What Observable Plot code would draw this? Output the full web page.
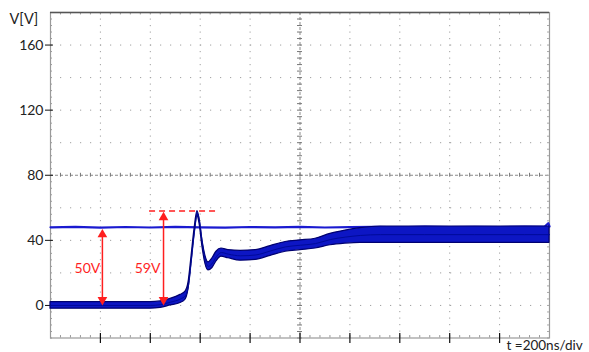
<!DOCTYPE html>
<html>
<head>
<meta charset="utf-8">
<script src="https://cdn.jsdelivr.net/npm/d3@7"></script>
<script src="https://cdn.jsdelivr.net/npm/@observablehq/plot@0.6"></script>
<style>
  html, body { margin: 0; padding: 0; background: #fff; }
  #chart { width: 589px; height: 352px; }
</style>
</head>
<body>
<div id="chart"></div>
<script>
// ---- data (time in ns, voltage in V) ----
const yTicks = [0, 40, 80, 120, 160];
const xMajor = [0, 200, 400, 600, 800, 1000, 1200, 1400, 1600, 1800, 2000];
const yGrid = [0, 20, 40, 60, 100, 120, 140, 160];
const xGrid = [200, 400, 600, 800, 1200, 1400, 1600, 1800];

// main (switch) trace: centre value and half band width
const traceT   = [0, 400, 441, 481, 521, 541, 553, 565, 577, 589, 597, 609, 621, 633, 649, 665, 685, 713, 762, 822, 882, 942, 1002, 1062, 1122, 1182, 1242, 1323, 1500, 1700, 1900, 2000];
const traceV   = [0, 0, 0.5, 2, 4, 6, 12, 28, 45, 56.5, 52, 38, 28, 24, 26, 30, 32.5, 31.5, 30.5, 31, 33.5, 36, 37, 38, 40.5, 42, 43, 43.5, 43.5, 43.5, 43.5, 43.5];
const traceHW  = [2, 2, 2, 2, 2.5, 2.5, 2, 1.8, 1.6, 1.5, 1.5, 2, 2.5, 2.5, 3, 3, 2.5, 2.5, 3, 3, 3, 3, 3, 3, 3.5, 4, 4.5, 5, 5, 5, 5, 5];

// supply line (~48 V)
const supplyT = [0, 100, 200, 300, 400, 500, 600, 700, 800, 900, 1000, 1100, 1200, 1300, 1400, 1500, 1600, 1700, 1800, 1900, 1980, 1995, 2000];
const supplyV = [48, 48.3, 47.8, 48.2, 47.9, 48.3, 48, 47.8, 48.2, 48, 48.3, 47.9, 48.1, 48.3, 48, 48.4, 48.1, 48.3, 48.2, 48.4, 48.3, 50.5, 48.5];

// annotations
const arrowLabels = ["50V", "59V"];
const arrowT = [208, 453];
const arrowV = [47, 57.5];
const labelT = [148, 389];
const labelV = [22.5, 22.5];
const peakLineT = [397, 665];
const peakLineV = 58;

const trace = traceT.map((t, i) => ({t, lo: traceV[i] - traceHW[i], hi: traceV[i] + traceHW[i], v: traceV[i]}));
const supply = supplyT.map((t, i) => ({t, v: supplyV[i]}));
const arrows = arrowT.map((t, i) => ({t, top: arrowV[i]}));
const labels = arrowLabels.map((s, i) => ({s, t: labelT[i], v: labelV[i]}));

const minorX = d3.range(0, 2001, 40);
const minorY = d3.range(-20, 181, 4);
const font = "Lato, 'Open Sans', sans-serif";
const red = "#ff1f1f";

const chart = Plot.plot({
  width: 589,
  height: 352,
  marginLeft: 50,
  marginRight: 40,
  marginTop: 12,
  marginBottom: 14.5,
  style: {fontFamily: font, background: "#fff"},
  x: {domain: [0, 2000], axis: null},
  y: {domain: [-20, 180], axis: null},
  marks: [
    // dotted graticule
    Plot.ruleY(yGrid, {stroke: "#a0a0a0", strokeWidth: 1, strokeDasharray: "1.2,8.8"}),
    Plot.ruleX(xGrid, {stroke: "#a0a0a0", strokeWidth: 1, strokeDasharray: "1.2,5.3"}),
    // centre cross lines
    Plot.ruleY([80], {stroke: "#8a8a8a", strokeWidth: 1, strokeDasharray: "3,2"}),
    Plot.ruleX([1000], {stroke: "#8a8a8a", strokeWidth: 1, strokeDasharray: "3,2"}),
    Plot.ruleX(minorX, {x: d => d, y1: 78.8, y2: 81.2, stroke: "#777"}),
    Plot.ruleY(minorY, {y: d => d, x1: 990, x2: 1010, stroke: "#777"}),
    // frame minor ticks
    Plot.ruleY(minorY, {y: d => d, x1: 0, x2: 8, stroke: "#999"}),
    Plot.ruleY(minorY, {y: d => d, x1: 1992, x2: 2000, stroke: "#aaa"}),
    Plot.ruleX(minorX, {x: d => d, y1: 178.5, y2: 180, stroke: "#999"}),
    Plot.ruleX(minorX, {x: d => d, y1: -20, y2: -18.5, stroke: "#999"}),
    Plot.frame({stroke: "#9a9a9a", strokeWidth: 1.2}),
    Plot.ruleY([180], {stroke: "#555", strokeWidth: 1.3}),
    // major ticks on bottom
    Plot.ruleX(xMajor.slice(1, -1), {x: d => d, y1: -17.2, y2: -23.4, stroke: "#111", strokeWidth: 1.2}),
    // y axis
    Plot.axisY({ticks: yTicks, tickSize: 5, tickPadding: 2, fontSize: 14, stroke: "#111", color: "#222", label: null}),
    Plot.ruleY(yTicks, {y: d => d, x1: 0, x2: 12, stroke: "#111", strokeWidth: 1}),
    // supply line
    Plot.line(supply, {x: "t", y: "v", stroke: "#1a1ad0", strokeWidth: 2.2}),
    // main trace band
    Plot.areaY(trace, {x: "t", y1: "lo", y2: "hi", fill: "#0d16c4", stroke: "#000070", strokeWidth: 1.2, curve: "monotone-x"}),
    Plot.line(trace, {x: "t", y: "v", stroke: "#000a9a", strokeWidth: 1, curve: "monotone-x"}),
    // annotations
    Plot.ruleY([peakLineV], {x1: peakLineT[0], x2: peakLineT[1], stroke: red, strokeWidth: 1.5, strokeDasharray: "6,4"}),
    Plot.ruleX(arrows, {x: "t", y1: 2, y2: d => d.top - 2, stroke: red, strokeWidth: 1.5}),
    Plot.dot(arrows, {x: "t", y: "top", symbol: "triangle", r: 3.6, fill: red, stroke: null, dy: 5.6}),
    Plot.dot(arrows, {x: "t", y: 0, symbol: "triangle", r: 3.6, fill: red, stroke: null, rotate: 180, dy: -5.6}),
    Plot.text(labels, {x: "t", y: "v", text: "s", fill: red, fontSize: 14, textAnchor: "middle"}),
    // titles
    Plot.text(["V[V]"], {frameAnchor: "top-left", dx: -41, dy: 1, textAnchor: "start", lineAnchor: "top", fontSize: 14.5, fill: "#222"}),
    Plot.text(["t =200ns/div"], {frameAnchor: "bottom-right", dx: -43, dy: 12, textAnchor: "start", lineAnchor: "bottom", fontSize: 13.5, fill: "#222"})
  ]
});
document.getElementById("chart").appendChild(chart);
</script>
</body>
</html>
